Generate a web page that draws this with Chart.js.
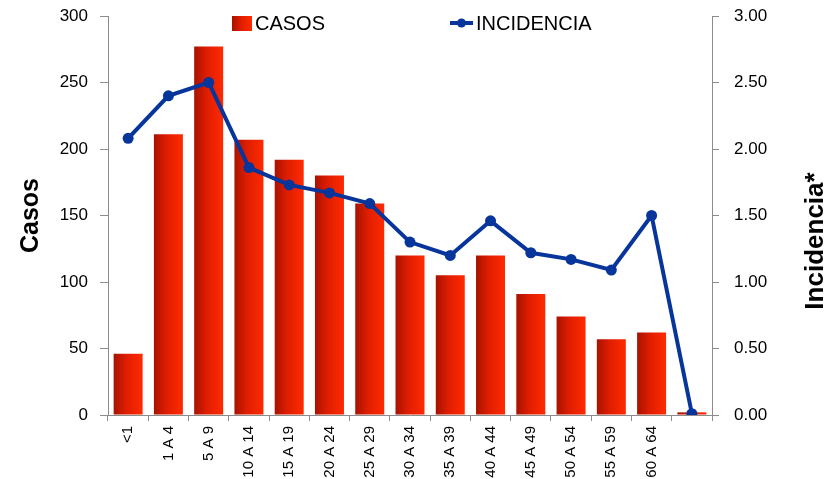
<!DOCTYPE html>
<html>
<head>
<meta charset="utf-8">
<script src="https://cdn.jsdelivr.net/npm/chart.js@4"></script>
<style>
  html, body { margin: 0; padding: 0; background: #fff; }
  #wrap { width: 839px; height: 479px; position: relative; }
</style>
</head>
<body>
<div id="wrap"><canvas id="chart"></canvas></div>
<script>
// data
const labels = ['<1', '1 A 4', '5 A 9', '10 A 14', '15 A 19', '20 A 24', '25 A 29', '30 A 34', '35 A 39', '40 A 44', '45 A 49', '50 A 54', '55 A 59', '60 A 64', ''];
const casos = [46, 211, 277, 207, 192, 180, 159, 120, 105, 120, 91, 74, 57, 62, 2];
const incidencia = [2.08, 2.40, 2.50, 1.86, 1.73, 1.67, 1.59, 1.30, 1.20, 1.46, 1.22, 1.17, 1.09, 1.50, 0.01];
const casosTicks = [0, 50, 100, 150, 200, 250, 300];
const incTicks = [0, 0.5, 1, 1.5, 2, 2.5, 3];

const FONT = "'Liberation Sans', Arial, sans-serif";
const AXIS_GRAY = '#8c8c8c';
const BLUE = '#07359b';

function redGradient(ctx, x0, x1) {
  const g = ctx.createLinearGradient(x0, 0, x1, 0);
  g.addColorStop(0, '#a81200');
  g.addColorStop(0.45, '#e01e00');
  g.addColorStop(1, '#ff2a00');
  return g;
}

function barColor(context) {
  const chart = context.chart;
  const area = chart.chartArea;
  if (!area) return '#e81e00';
  const x = chart.scales.x;
  const cx = x.getPixelForValue(context.dataIndex);
  const w = (x.right - x.left) / labels.length * 0.72;
  return redGradient(chart.ctx, cx - w / 2, cx + w / 2);
}

// fixed axis sizes so the plot area lands where the reference has it
function fixWidth(w) {
  return (s) => { s.width = w; s.paddingTop = 0; s.paddingBottom = 0; };
}

// legend + right title drawn by hand (legend sits inside the plot area)
const extras = {
  id: 'extras',
  afterDraw(chart) {
    const ctx = chart.ctx;
    ctx.save();
    ctx.font = '20px ' + FONT;
    ctx.textBaseline = 'middle';
    ctx.fillStyle = '#000';

    // CASOS
    ctx.fillStyle = redGradient(ctx, 232, 252);
    ctx.fillRect(232, 16, 20, 15);
    ctx.fillStyle = '#000';
    ctx.fillText(chart.data.datasets[1].label, 255, 24);

    // INCIDENCIA
    ctx.strokeStyle = BLUE;
    ctx.lineWidth = 4;
    ctx.beginPath();
    ctx.moveTo(450, 23);
    ctx.lineTo(473, 23);
    ctx.stroke();
    ctx.fillStyle = BLUE;
    ctx.beginPath();
    ctx.arc(461.5, 23, 4.5, 0, Math.PI * 2);
    ctx.fill();
    ctx.fillStyle = '#000';
    ctx.fillText(chart.data.datasets[0].label, 476, 24);

    // right axis title, reads bottom to top
    ctx.translate(816, 241);
    ctx.rotate(-Math.PI / 2);
    ctx.font = 'bold 26px ' + FONT;
    ctx.textAlign = 'center';
    ctx.fillText('Incidencia*', 0, 0);
    ctx.restore();
  }
};

new Chart(document.getElementById('chart'), {
  type: 'bar',
  data: {
    labels: labels,
    datasets: [
      {
        type: 'line',
        label: 'INCIDENCIA',
        data: incidencia,
        yAxisID: 'y1',
        borderColor: BLUE,
        backgroundColor: BLUE,
        borderWidth: 4,
        pointRadius: 5.5,
        pointBorderWidth: 0,
        pointBackgroundColor: BLUE,
        tension: 0,
        order: 0,
      },
      {
        type: 'bar',
        label: 'CASOS',
        data: casos,
        yAxisID: 'y',
        backgroundColor: barColor,
        barPercentage: 0.72,
        categoryPercentage: 1,
        order: 1,
      },
    ],
  },
  options: {
    responsive: true,
    maintainAspectRatio: false,
    animation: false,
    layout: { padding: { top: 16, left: 0, right: 0, bottom: 0 } },
    plugins: {
      legend: { display: false },
      tooltip: { enabled: false },
    },
    scales: {
      x: {
        afterFit: (s) => { s.height = 64; s.paddingLeft = 0; s.paddingRight = 0; },
        grid: { drawOnChartArea: false, offset: true, tickLength: 6, color: AXIS_GRAY },
        border: { color: AXIS_GRAY },
        ticks: {
          autoSkip: false,
          maxRotation: 90,
          minRotation: 90,
          padding: 5,
          color: '#000',
          font: { family: FONT, size: 15 },
        },
      },
      y: {
        position: 'left',
        min: 0,
        max: 300,
        afterFit: fixWidth(108),
        afterBuildTicks: (s) => { s.ticks = casosTicks.map(v => ({ value: v })); },
        grid: { drawOnChartArea: false, tickLength: 8, color: AXIS_GRAY },
        border: { color: AXIS_GRAY },
        ticks: {
          padding: 12,
          color: '#000',
          font: { family: FONT, size: 17 },
        },
        title: {
          display: true,
          text: 'Casos',
          color: '#000',
          font: { family: FONT, size: 25, weight: 'bold' },
          padding: { top: 16, bottom: 0 },
        },
      },
      y1: {
        position: 'right',
        min: 0,
        max: 3,
        afterFit: fixWidth(127),
        afterBuildTicks: (s) => { s.ticks = incTicks.map(v => ({ value: v })); },
        grid: { drawOnChartArea: false, tickLength: 7, color: AXIS_GRAY },
        border: { color: AXIS_GRAY },
        ticks: {
          padding: 15,
          color: '#000',
          font: { family: FONT, size: 17 },
          callback: (v) => Number(v).toFixed(2),
        },
      },
    },
  },
  plugins: [extras],
});
</script>
</body>
</html>
